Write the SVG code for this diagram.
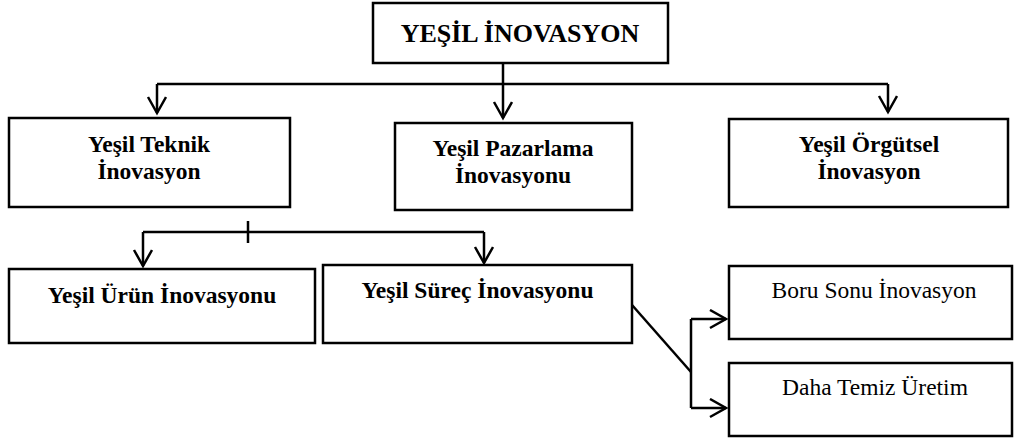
<svg xmlns="http://www.w3.org/2000/svg" width="1017" height="439" viewBox="0 0 1017 439">
<defs>
<style>
.box{fill:#fff;stroke:#000;stroke-width:2.5}
.ln{fill:none;stroke:#000;stroke-width:2.5}
.t{font-family:"Liberation Serif","Times New Roman",serif;font-size:23.5px;fill:#000;text-anchor:middle}
.b{font-weight:bold}
.title{font-size:26px}
</style>
<marker id="ah" markerWidth="20" markerHeight="22" refX="17" refY="10" orient="auto" markerUnits="userSpaceOnUse" viewBox="0 0 20 22">
<path d="M1,1 L17,10 L1,19" fill="none" stroke="#000" stroke-width="2.5"/>
</marker>
</defs>
<rect width="1017" height="439" fill="#fff"/>
<g id="connectors">
<path class="ln" d="M503,63 V84"/>
<path class="ln" d="M157,84 H888"/>
<path class="ln" d="M157,84 V113" marker-end="url(#ah)"/>
<path class="ln" d="M503,84 V118" marker-end="url(#ah)"/>
<path class="ln" d="M888,84 V112" marker-end="url(#ah)"/>
<path class="ln" d="M143,232 H484"/>
<path class="ln" d="M248,221 V243"/>
<path class="ln" d="M143,232 V266" marker-end="url(#ah)"/>
<path class="ln" d="M484,232 V263" marker-end="url(#ah)"/>
<path class="ln" d="M632,305 L691,372"/>
<path class="ln" d="M691,319 V408"/>
<path class="ln" d="M691,319 H726" marker-end="url(#ah)"/>
<path class="ln" d="M691,408 H726" marker-end="url(#ah)"/>
</g>
<g id="n-yesil-inovasyon">
<rect class="box" x="373" y="3" width="295" height="60"/>
<text class="t b title" x="520" y="42">YEŞİL İNOVASYON</text>
</g>
<g id="n-teknik">
<rect class="box" x="9" y="118" width="281" height="89"/>
<text class="t b" x="149" y="152">Yeşil Teknik</text>
<text class="t b" x="149" y="179">İnovasyon</text>
</g>
<g id="n-pazarlama">
<rect class="box" x="395" y="123" width="237" height="87"/>
<text class="t b" x="513" y="156">Yeşil Pazarlama</text>
<text class="t b" x="513" y="183">İnovasyonu</text>
</g>
<g id="n-orgutsel">
<rect class="box" x="729" y="119" width="279" height="88"/>
<text class="t b" x="869" y="152">Yeşil Örgütsel</text>
<text class="t b" x="869" y="179">İnovasyon</text>
</g>
<g id="n-urun">
<rect class="box" x="9" y="269" width="306" height="74"/>
<text class="t b" x="162" y="303">Yeşil Ürün İnovasyonu</text>
</g>
<g id="n-surec">
<rect class="box" x="323" y="265" width="309" height="78"/>
<text class="t b" x="477.5" y="298">Yeşil Süreç İnovasyonu</text>
</g>
<g id="n-boru-sonu">
<rect class="box" x="729" y="266" width="283" height="73"/>
<text class="t" x="874" y="298">Boru Sonu İnovasyon</text>
</g>
<g id="n-temiz-uretim">
<rect class="box" x="729" y="363" width="283" height="73"/>
<text class="t" x="875" y="395">Daha Temiz Üretim</text>
</g>
</svg>
